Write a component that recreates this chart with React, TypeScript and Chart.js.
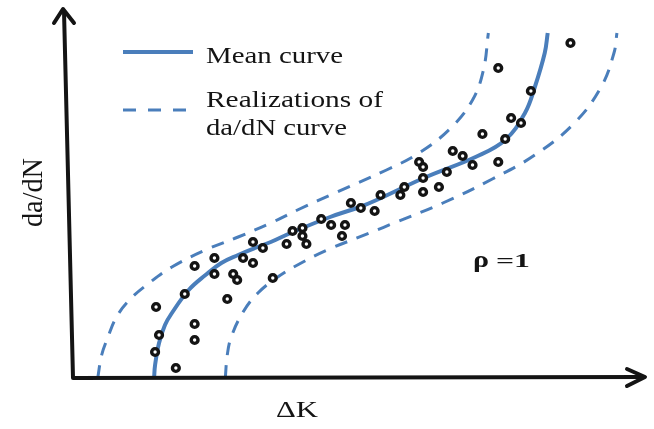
import React, { useEffect, useRef } from "react";
import { Chart, registerables } from "chart.js";

Chart.register(...registerables);

// ΔK / da/dN in arbitrary units (1 unit = 10 px of the plot)
const meanK = [8.2, 8.3, 8.7, 9.3, 10.0, 11.7, 13.4, 15.0, 16.7, 18.4, 20.0, 22.0, 26.0, 29.0, 30.7, 35.7, 40.7, 43.7, 45.7, 46.7, 47.7, 48.0];
const meanRate = [0, 1.3, 3.5, 5.3, 6.5, 8.8, 10.3, 11.5, 12.3, 13.0, 13.6, 14.5, 16.1, 17.1, 17.8, 20.1, 22.1, 23.8, 26.5, 29.1, 32.5, 34.5];

const upperK = [2.5, 2.9, 3.5, 4.4, 5.7, 7.7, 10.0, 13.4, 16.7, 20.0, 22.7, 26.7, 31.7, 35.0, 38.2, 40.4, 41.5, 42.0];
const upperRate = [0, 2.3, 4.0, 6.1, 7.8, 9.5, 11.1, 12.8, 14.1, 15.5, 16.8, 18.6, 20.8, 22.5, 25.0, 27.8, 30.8, 34.5];

const lowerK = [15.4, 15.6, 16.0, 17.2, 18.7, 20.7, 22.7, 25.7, 30.0, 32.7, 37.4, 42.4, 46.7, 50.7, 53.4, 54.7, 55.0];
const lowerRate = [0, 2.3, 4.1, 6.6, 8.5, 10.1, 11.3, 12.8, 14.5, 15.6, 17.5, 19.9, 22.3, 25.5, 29.1, 32.5, 34.5];

const testK = [8.4, 8.7, 8.3, 10.4, 12.3, 12.3, 11.3, 12.3, 14.3, 14.3, 15.6, 16.2, 16.6, 17.2, 18.2, 18.2, 19.2, 20.2, 21.6, 22.2, 23.2, 23.2, 23.6, 25.1, 26.1, 27.2, 27.5, 28.1, 29.1, 30.5, 31.1, 33.1, 33.5, 35.0, 35.4, 35.4, 35.4, 37.0, 37.8, 38.4, 39.4, 40.4, 41.4, 43.0, 43.7, 44.3, 45.3, 46.3, 43.0, 50.3];
const testRate = [7.1, 4.3, 2.6, 1.0, 5.4, 3.8, 8.4, 11.2, 12.0, 10.4, 7.9, 10.4, 9.8, 12.0, 13.6, 11.5, 13.0, 10.0, 13.4, 14.7, 15.0, 14.2, 13.4, 15.9, 15.3, 14.2, 15.3, 17.5, 17.0, 16.7, 18.3, 18.3, 19.1, 21.6, 21.1, 20.0, 18.6, 19.1, 20.6, 22.7, 22.2, 21.3, 24.4, 21.6, 23.9, 26.0, 25.5, 28.7, 31.0, 33.5];

const legendLabels = ["Mean curve", "Realizations of", "da/dN curve"];
const xTitle = "ΔK";
const yTitle = "da/dN";
const corrSymbol = "ρ";
const corrValue = "=1";

const BLUE = "#4a7ebb";
const INK = "#141414";
const SERIF = '"Liberation Serif", "Times New Roman", serif';

const toPoints = (xs: number[], ys: number[]) => xs.map((x, i) => ({ x, y: ys[i] }));

// text fitted to a given width (horizontal stretch keeps the glyph height)
function fitText(ctx: CanvasRenderingContext2D, text: string, font: string, x: number, y: number, width: number) {
  ctx.save();
  ctx.font = font;
  const w = ctx.measureText(text).width;
  ctx.translate(x, y);
  ctx.scale(width / w, 1);
  ctx.fillText(text, 0, 0);
  ctx.restore();
}

const decorations = {
  id: "decorations",
  afterDatasetsDraw(chart: Chart) {
    const ctx = chart.ctx;
    ctx.save();

    // axes with open arrow heads
    ctx.strokeStyle = INK;
    ctx.lineWidth = 4;
    ctx.lineCap = "butt";
    ctx.lineJoin = "round";
    ctx.beginPath();
    ctx.moveTo(64, 11);
    ctx.lineTo(73, 378);
    ctx.lineTo(644, 377);
    ctx.stroke();
    ctx.lineCap = "round";
    ctx.beginPath();
    ctx.moveTo(54, 23);
    ctx.lineTo(63, 9);
    ctx.lineTo(74, 23);
    ctx.stroke();
    ctx.beginPath();
    ctx.moveTo(627, 369);
    ctx.lineTo(645, 377);
    ctx.lineTo(627, 386);
    ctx.stroke();

    // legend
    ctx.lineCap = "butt";
    ctx.strokeStyle = BLUE;
    ctx.lineWidth = 4;
    ctx.beginPath();
    ctx.moveTo(123, 52);
    ctx.lineTo(193, 52);
    ctx.stroke();
    ctx.lineWidth = 3;
    ctx.setLineDash([13, 12]);
    ctx.beginPath();
    ctx.moveTo(123, 110);
    ctx.lineTo(190, 110);
    ctx.stroke();
    ctx.setLineDash([]);

    ctx.fillStyle = INK;
    ctx.textBaseline = "alphabetic";
    ctx.textAlign = "left";
    const legendFont = `24px ${SERIF}`;
    fitText(ctx, legendLabels[0], legendFont, 206, 63, 137);
    fitText(ctx, legendLabels[1], legendFont, 206, 107, 177);
    fitText(ctx, legendLabels[2], legendFont, 206, 135, 141);

    // axis titles
    fitText(ctx, xTitle, `24px ${SERIF}`, 276, 417, 42);
    ctx.save();
    ctx.translate(42, 227);
    ctx.rotate(-Math.PI / 2);
    ctx.font = `26px ${SERIF}`;
    const tw = ctx.measureText(yTitle).width;
    ctx.scale(69 / tw, 1.1);
    ctx.fillText(yTitle, 0, 0);
    ctx.restore();

    // correlation note
    fitText(ctx, corrSymbol, `bold 23px ${SERIF}`, 473, 267, 16);
    fitText(ctx, corrValue, `bold 19px ${SERIF}`, 496, 267, 34);

    ctx.restore();
  },
};

export default function App() {
  const canvasRef = useRef<HTMLCanvasElement | null>(null);

  useEffect(() => {
    if (!canvasRef.current) return;
    const curve = (data: { x: number; y: number }[], dashed: boolean, order: number) => ({
      type: "scatter" as const,
      data,
      showLine: true,
      borderColor: BLUE,
      borderWidth: dashed ? 3 : 4,
      borderDash: dashed ? [13, 10] : [],
      tension: 0.4,
      pointRadius: 0,
      pointHoverRadius: 0,
      clip: false as const,
      order,
    });
    const chart = new Chart(canvasRef.current, {
      type: "scatter",
      data: {
        datasets: [
          {
            data: toPoints(testK, testRate),
            pointRadius: 3.4,
            pointBorderWidth: 3.4,
            pointBorderColor: INK,
            pointBackgroundColor: "#ffffff",
            showLine: false,
            clip: false,
            order: 0,
          },
          curve(toPoints(meanK, meanRate), false, 1),
          curve(toPoints(upperK, upperRate), true, 2),
          curve(toPoints(lowerK, lowerRate), true, 3),
        ],
      },
      options: {
        responsive: false,
        animation: false,
        layout: { padding: { left: 73, right: 1, top: 8, bottom: 51 } },
        elements: { line: { capBezierPoints: false } },
        scales: {
          x: { type: "linear", min: 0, max: 58, display: false },
          y: { type: "linear", min: 0, max: 37, display: false },
        },
        plugins: {
          legend: { display: false },
          tooltip: { enabled: false },
        },
      },
      plugins: [decorations],
    });
    return () => chart.destroy();
  }, []);

  return (
    <div style={{ position: "absolute", left: 0, top: 0, width: 654, height: 429, background: "#fff" }}>
      <canvas ref={canvasRef} width={654} height={429} style={{ display: "block" }} />
    </div>
  );
}
